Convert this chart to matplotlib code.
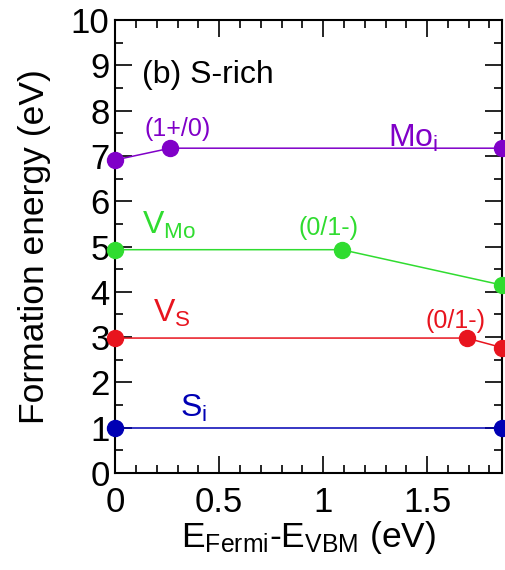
import matplotlib
matplotlib.use("Agg")
import matplotlib.pyplot as plt
from matplotlib.ticker import MultipleLocator

plt.rcParams['font.family'] = ['Liberation Sans', 'DejaVu Sans']
plt.rcParams['mathtext.fontset'] = 'custom'
plt.rcParams['mathtext.rm'] = 'Liberation Sans'
plt.rcParams['mathtext.it'] = 'Liberation Sans'

# formation energy vs fermi level, S-rich
mo_x = [0.0, 0.265, 1.86]
mo_y = [6.91, 7.17, 7.17]
vmo_x = [0.0, 1.09, 1.86]
vmo_y = [4.93, 4.93, 4.15]
vs_x = [0.0, 1.69, 1.86]
vs_y = [2.98, 2.98, 2.77]
si_x = [0.0, 1.86]
si_y = [1.0, 1.0]

c_mo = '#8000c8'
c_vmo = '#30dc30'
c_vs = '#e8141e'
c_si = '#0000b4'

fig = plt.figure(figsize=(5.05, 5.7), dpi=100)
ax = fig.add_axes([0.228, 0.170, 0.766, 0.795])

for xs, ys, c in [(mo_x, mo_y, c_mo), (vmo_x, vmo_y, c_vmo), (vs_x, vs_y, c_vs), (si_x, si_y, c_si)]:
    ax.plot(xs, ys, '-', color=c, lw=1.1, marker='o', ms=11.5, clip_on=False, zorder=3)

ax.set_xlim(0, 1.86)
ax.set_ylim(0, 10)
ax.xaxis.set_major_locator(MultipleLocator(0.5))
ax.xaxis.set_minor_locator(MultipleLocator(0.1))
ax.yaxis.set_major_locator(MultipleLocator(1))
ax.yaxis.set_minor_locator(MultipleLocator(0.5))
ax.set_xticks([0, 0.5, 1, 1.5])
ax.set_xticklabels(['0', '0.5', '1', '1.5'])
ax.tick_params(which='both', direction='in', top=True, right=True, width=1.2, labelsize=25)
ax.tick_params(which='major', length=12)
ax.tick_params(which='minor', length=6)
ax.tick_params(axis='y', pad=4)
ax.tick_params(axis='x', pad=9)
for s in ax.spines.values():
    s.set_linewidth(1.5)

ax.set_xlabel(r'E$_{\mathrm{Fermi}}$-E$_{\mathrm{VBM}}$ (eV)', fontsize=25.5, labelpad=0)
ax.set_ylabel('Formation energy (eV)', fontsize=25.5, labelpad=14)

ax.text(0.13, 8.6, '(b) S-rich', fontsize=23, color='black')
ax.text(0.14, 7.45, '(1+/0)', fontsize=18, color=c_mo)
ax.text(1.31, 7.2, r'Mo$_{\mathrm{i}}$', fontsize=23, color=c_mo)
ax.text(0.13, 5.27, r'V$_{\mathrm{Mo}}$', fontsize=23, color=c_vmo)
ax.text(0.88, 5.25, '(0/1-)', fontsize=18, color=c_vmo)
ax.text(0.18, 3.33, r'V$_{\mathrm{S}}$', fontsize=23, color=c_vs)
ax.text(1.49, 3.2, '(0/1-)', fontsize=18, color=c_vs)
ax.text(0.31, 1.24, r'S$_{\mathrm{i}}$', fontsize=23, color=c_si)

fig.savefig('out.png', dpi=100)
